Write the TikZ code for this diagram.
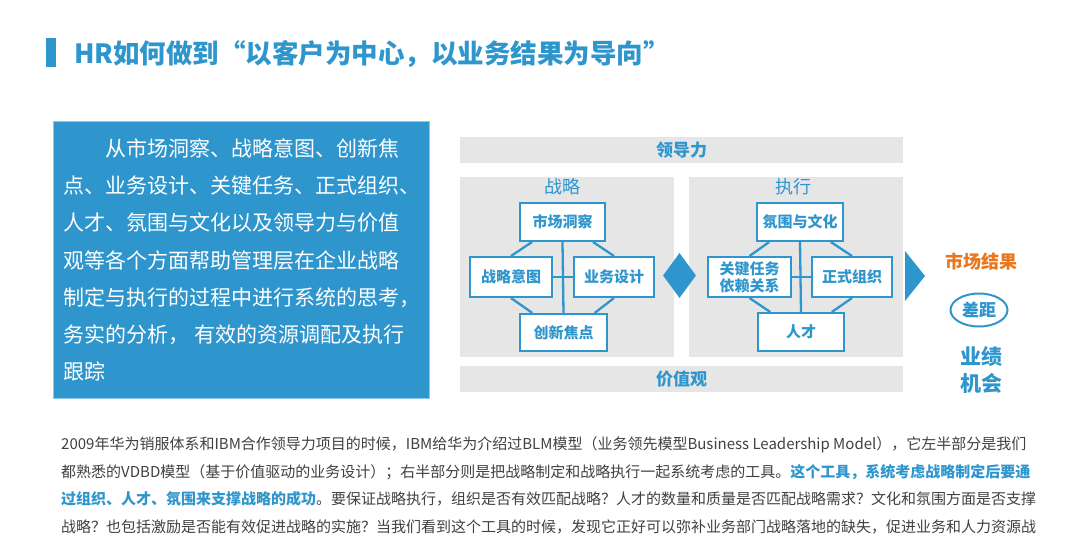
\documentclass[tikz,border=0pt]{standalone}
\usepackage{fontspec}
\setmainfont{Noto Sans CJK SC}
\usepackage{xcolor}
\definecolor{hrblue}{RGB}{47,150,205}
\definecolor{hrframe}{RGB}{140,200,235}
\definecolor{panelgray}{RGB}{230,230,230}
\definecolor{resultorange}{RGB}{233,118,29}
\definecolor{bodygray}{RGB}{64,64,64}
\usepackage{tikz}
\usetikzlibrary{calc,shapes.geometric,positioning}

\begin{document}
\begin{tikzpicture}[x=1pt,y=-1pt,
  intro/.style={
    rectangle, draw=hrframe, fill=hrblue, line width=1pt,
    minimum width=376pt, minimum height=277pt, inner sep=0pt,
    align=left, text=white, font=\fontsize{21}{37.2}\selectfont
  },
  band/.style={
    rectangle, fill=panelgray, minimum width=443pt, minimum height=26pt,
    inner sep=0pt, text=hrblue, font=\fontsize{17}{19}\selectfont\bfseries
  },
  panel/.style={
    rectangle, fill=panelgray, minimum width=214pt, minimum height=180pt,
    inner sep=0pt
  },
  paneltitle/.style={text=hrblue, inner sep=0pt, font=\fontsize{18}{20}\selectfont},
  item/.style={
    rectangle, draw=hrblue, fill=white, line width=2pt, inner sep=0pt,
    align=center, text=hrblue, font=\fontsize{15}{17}\selectfont\bfseries
  },
  link/.style={hrblue, line width=2.3pt},
  result/.style={inner sep=0pt, align=center, font=\fontsize{21}{27}\selectfont\bfseries, text=hrblue},
  bodyline/.style={anchor=west, inner sep=0pt, text=bodygray, font=\fontsize{15}{17}\selectfont}
]
\useasboundingbox (0,0) rectangle (1080,544);

% title
\fill[hrblue] (46,38) rectangle (56,67);
\node[anchor=west, inner sep=0pt, text=hrblue, font=\fontsize{26.5}{29}\selectfont\bfseries]
  (title) at (74,54) {HR如何做到“以客户为中心，以业务结果为导向”};

% left summary
\node[intro] (summary) at (241,260)
  {\hspace*{44pt}从市场洞察、战略意图、创新焦\\
   \hspace*{2pt}点、业务设计、关键任务、正式组织、\\
   \hspace*{2pt}人才、氛围与文化以及领导力与价值\\
   \hspace*{2pt}观等各个方面帮助管理层在企业战略\\
   \hspace*{2pt}制定与执行的过程中进行系统的思考，\\
   \hspace*{2pt}务实的分析， 有效的资源调配及执行\\
   \hspace*{2pt}跟踪};

% BLM frame
\node[band] (lead) at (681.5,150) {领导力};
\node[band] (values) at (681.5,379) {价值观};
\node[panel] (strat) at (567,267) {};
\node[panel] (exec) at (796,267) {};
\node[paneltitle] (strattitle) at (562,187) {战略};
\node[paneltitle] (exectitle) at (793,187) {执行};

% strategy side
\node[item, minimum width=85pt, minimum height=38pt] (market) at (562.5,222) {市场洞察};
\node[item, minimum width=82pt, minimum height=40pt] (intent) at (511,277) {战略意图};
\node[item, minimum width=80pt, minimum height=40pt] (design) at (614,277) {业务设计};
\node[item, minimum width=87pt, minimum height=37pt] (innov) at (563.5,332.5) {创新焦点};

\draw[link] (market.south) -- (innov.north);
\draw[link] (intent.east) -- (design.west);
\draw[link] ($(market.south)!0.7!(market.south west)$) -- (intent.north);
\draw[link] ($(market.south)!0.7!(market.south east)$) -- (design.north);
\draw[link] (intent.south) -- ($(innov.north)!0.7!(innov.north west)$);
\draw[link] (design.south) -- ($(innov.north)!0.7!(innov.north east)$);

% execution side
\node[item, minimum width=86pt, minimum height=38pt] (climate) at (800,222) {氛围与文化};
\node[item, minimum width=83pt, minimum height=40pt] (keytask) at (749.5,277) {关键任务\\依赖关系};
\node[item, minimum width=80pt, minimum height=40pt] (formal) at (852,277) {正式组织};
\node[item, minimum width=86pt, minimum height=38pt] (talent) at (801,332) {人才};

\draw[link] (climate.south) -- (talent.north);
\draw[link] (keytask.east) -- (formal.west);
\draw[link] ($(climate.south)!0.7!(climate.south west)$) -- (keytask.north);
\draw[link] ($(climate.south)!0.7!(climate.south east)$) -- (formal.north);
\draw[link] (keytask.south) -- ($(talent.north)!0.7!(talent.north west)$);
\draw[link] (formal.south) -- ($(talent.north)!0.7!(talent.north east)$);

% diamond and pointer
\node[diamond, fill=hrblue, minimum width=33pt, minimum height=45pt, inner sep=0pt] (joint) at (679.5,275.5) {};
\fill[hrblue] (905,251) -- (925,276) -- (905,301) -- cycle;

% results
\node[inner sep=0pt, text=resultorange, font=\fontsize{18}{20}\selectfont\bfseries] (outcome) at (981.5,262) {市场结果};
\node[ellipse, draw=hrblue, line width=2pt, minimum width=57pt, minimum height=33pt, inner sep=0pt,
  text=hrblue, font=\fontsize{17}{19}\selectfont\bfseries] (gap) at (979,310) {差距};
\node[result] (chance) at (981,370) {业绩\\机会};

% text under the figure
\node[bodyline] (para1) at (61,445) {2009年华为销服体系和IBM合作领导力项目的时候，IBM给华为介绍过BLM模型（业务领先模型Business Leadership Model），它左半部分是我们};
\node[bodyline] (para2) at (61,472) {都熟悉的VDBD模型（基于价值驱动的业务设计）；右半部分则是把战略制定和战略执行一起系统考虑的工具。\textcolor{hrblue}{\bfseries 这个工具，系统考虑战略制定后要通}};
\node[bodyline] (para3) at (61,499) {\textcolor{hrblue}{\bfseries 过组织、人才、氛围来支撑战略的成功}。要保证战略执行，组织是否有效匹配战略？人才的数量和质量是否匹配战略需求？文化和氛围方面是否支撑};
\node[bodyline] (para4) at (61,527) {战略？也包括激励是否能有效促进战略的实施？当我们看到这个工具的时候，发现它正好可以弥补业务部门战略落地的缺失，促进业务和人力资源战};
\end{tikzpicture}
\end{document}
